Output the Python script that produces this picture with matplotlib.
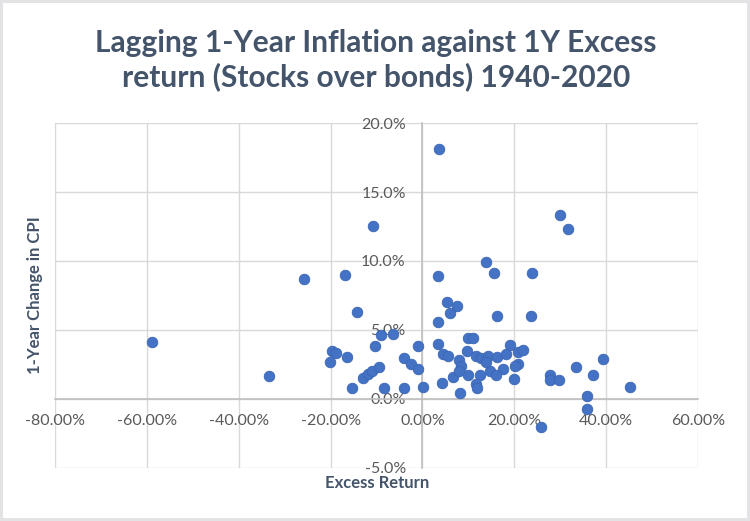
import matplotlib.pyplot as plt
from matplotlib.patches import Rectangle
from matplotlib.ticker import FuncFormatter

plt.rcParams['font.family'] = ['Lato', 'DejaVu Sans']

# excess return of stocks over bonds (%) and lagging 1-year CPI change (%)
excess_return = [
    -58.8, -33.5, -25.7, -16.9, -10.75, -14.3, -9.0, -6.5, -10.3, -19.6,
    -18.8, -20.1, -16.4, -15.4, -12.9, -11.9, -11.0, -9.4, -8.4, -4.1,
    -2.5, -4.1, -1.0, -0.9,
    0.1, 3.5, 29.9, 31.8, 13.9, 15.6, 23.9, 3.4, 5.4, 7.6,
    6.0, 16.2, 23.7, 3.4, 9.9, 11.1, 3.4, 4.4, 5.6, 9.7,
    7.9, 11.7, 12.8, 14.2, 13.9, 16.3, 18.1, 19.0, 20.8, 22.0,
    20.8, 20.1, 17.5, 8.3, 14.8, 16.1, 6.6, 9.9, 7.9, 12.6,
    19.9, 27.7, 27.7, 29.7, 33.4, 39.3, 37.1, 45.1, 35.9, 35.9,
    25.9, 4.3, 11.6, 11.8, 8.1,
]
cpi_change = [
    4.13, 1.62, 8.71, 8.95, 12.57, 6.26, 4.61, 4.71, 3.86, 3.44,
    3.35, 2.69, 3.06, 0.75, 1.53, 1.82, 2.01, 2.28, 0.75, 2.93,
    2.55, 0.80, 3.86, 2.16,
    0.82, 18.14, 13.37, 12.35, 9.95, 9.10, 9.10, 8.88, 6.99, 6.74,
    6.19, 6.02, 5.97, 5.60, 4.44, 4.44, 4.00, 3.28, 3.13, 3.47,
    2.84, 3.08, 2.96, 3.08, 2.67, 3.01, 3.25, 3.88, 3.37, 3.52,
    2.53, 2.40, 2.16, 2.35, 1.99, 1.75, 1.55, 1.75, 1.99, 1.70,
    1.43, 1.70, 1.38, 1.38, 2.31, 2.91, 1.72, 0.82, 0.17, -0.73,
    -2.06, 1.14, 1.07, 0.75, 0.44,
]

x_ticks = [-80, -60, -40, -20, 0, 20, 40, 60]
y_ticks = [-5, 0, 5, 10, 15, 20]

fig = plt.figure(figsize=(7.5, 5.21), dpi=100)
fig.patch.set_facecolor('#E3E3E6')
fig.add_artist(Rectangle((3 / 750, 3 / 521), 744 / 750, 515 / 521,
                         transform=fig.transFigure, facecolor='white',
                         edgecolor='none', zorder=0))

ax = fig.add_axes([55 / 750, 1 - 467.5 / 521, 643 / 750, 344.2 / 521])
ax.set_facecolor('none')
ax.set_xlim(-80, 60)
ax.set_ylim(-5, 20)
ax.set_xticks(x_ticks)
ax.set_yticks(y_ticks)
ax.xaxis.set_major_formatter(FuncFormatter(lambda v, p: f'{v:.2f}%'))
ax.yaxis.set_major_formatter(FuncFormatter(lambda v, p: f'{v:.1f}%'))
ax.grid(True, color='#D9D9D9', linewidth=1)
ax.set_axisbelow(True)

for side in ['top', 'right']:
    ax.spines[side].set_visible(False)
for side in ['left', 'bottom']:
    ax.spines[side].set_position(('data', 0))
    ax.spines[side].set_color('#BFBFBF')
    ax.spines[side].set_linewidth(1.2)
    ax.spines[side].set_zorder(1.5)

ax.tick_params(axis='x', length=0, pad=11, labelsize=11.5, labelcolor='#595959')
ax.tick_params(axis='y', length=0, pad=12, labelsize=11.5, labelcolor='#595959')

ax.scatter(excess_return, cpi_change, s=58, color='#4472C4',
           edgecolors='#3B66B5', linewidths=0.6, zorder=3, clip_on=False)

fig.text(376 / 750, 1 - 60.5 / 521,
         'Lagging 1-Year Inflation against 1Y Excess\nreturn (Stocks over bonds) 1940-2020',
         ha='center', va='center', fontsize=21.5, fontweight='bold',
         color='#44546A', linespacing=1.22)
fig.text(377 / 750, 1 - 483 / 521, 'Excess Return', ha='center', va='center',
         fontsize=12, fontweight='bold', color='#44546A')
fig.text(35 / 750, 1 - 295 / 521, '1-Year Change in CPI', ha='center', va='center',
         rotation=90, fontsize=12, fontweight='bold', color='#44546A')

fig.savefig('out.png', dpi=100)
